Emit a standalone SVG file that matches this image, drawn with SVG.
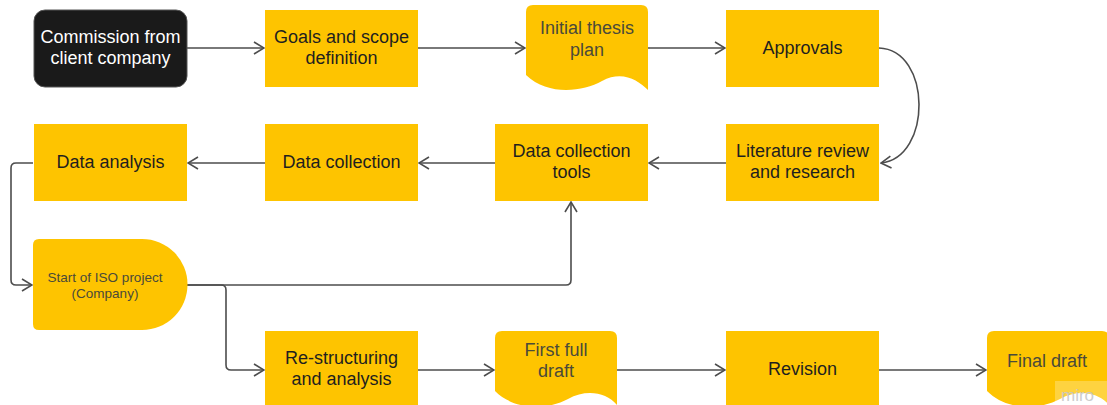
<svg xmlns="http://www.w3.org/2000/svg" width="1107" height="405" viewBox="0 0 1107 405">
<style>
.y{fill:#FEC400}
.t{font-family:"Liberation Sans",Arial,sans-serif;font-size:18px;fill:#1f1f1f;text-anchor:middle}
.g{fill:#4a4a3a}
.c{fill:none;stroke:#4d4d4d;stroke-width:1.6}
</style>
<defs>
<marker id="a" viewBox="0 0 12 14" refX="11" refY="7" markerWidth="12" markerHeight="14" markerUnits="userSpaceOnUse" orient="auto">
<path d="M1,1 L11,7 L1,13" fill="none" stroke="#4d4d4d" stroke-width="1.6"/>
</marker>
</defs>
<rect width="1107" height="405" fill="#fff"/>
<g id="connectors">
<path class="c" d="M187,48 H264" marker-end="url(#a)"/>
<path class="c" d="M418,48 H525" marker-end="url(#a)"/>
<path class="c" d="M648,48 H725" marker-end="url(#a)"/>
<path class="c" d="M879,48 C932,50 932,158 881,163" marker-end="url(#a)"/>
<path class="c" d="M726,163 H649" marker-end="url(#a)"/>
<path class="c" d="M495,163 H419" marker-end="url(#a)"/>
<path class="c" d="M265,163 H188" marker-end="url(#a)"/>
<path class="c" d="M33,163 H16 Q11,163 11,168 V280 Q11,285 16,285 H32" marker-end="url(#a)"/>
<path class="c" d="M187,285 H566 Q571,285 571,280 V202" marker-end="url(#a)"/>
<path class="c" d="M187,285 H221 Q226,285 226,290 V365 Q226,370 231,370 H264" marker-end="url(#a)"/>
<path class="c" d="M418,370 H494" marker-end="url(#a)"/>
<path class="c" d="M617,370 H725" marker-end="url(#a)"/>
<path class="c" d="M879,370 H986" marker-end="url(#a)"/>
</g>
<g id="commission">
<rect x="34" y="10" width="153" height="77" rx="11" fill="#1a1a1a" stroke="#555" stroke-width="1"/>
<text class="t" x="110.5" y="43" style="fill:#fff">Commission from</text>
<text class="t" x="110.5" y="64" style="fill:#fff">client company</text>
</g>
<g id="goals">
<rect class="y" x="265" y="10" width="153" height="77"/>
<text class="t" x="341.5" y="43">Goals and scope</text>
<text class="t" x="341.5" y="64">definition</text>
</g>
<g id="initial-plan">
<path class="y" d="M526,75 C548,96 582,92 602,81 C622,70 638,80 648,90 V12 Q648,5 641,5 H533 Q526,5 526,12 Z"/>
<text class="t g" x="587" y="34">Initial thesis</text>
<text class="t g" x="587" y="56">plan</text>
</g>
<g id="approvals">
<rect class="y" x="726" y="10" width="153" height="77"/>
<text class="t" x="802.5" y="54">Approvals</text>
</g>
<g id="literature">
<rect class="y" x="726" y="124" width="153" height="77"/>
<text class="t" x="802.5" y="157">Literature review</text>
<text class="t" x="802.5" y="178">and research</text>
</g>
<g id="tools">
<rect class="y" x="495" y="124" width="153" height="77"/>
<text class="t" x="571.5" y="157">Data collection</text>
<text class="t" x="571.5" y="178">tools</text>
</g>
<g id="collection">
<rect class="y" x="265" y="124" width="153" height="77"/>
<text class="t" x="341.5" y="168">Data collection</text>
</g>
<g id="analysis">
<rect class="y" x="34" y="124" width="153" height="77"/>
<text class="t" x="110.5" y="168">Data analysis</text>
</g>
<g id="iso-start">
<path class="y" d="M39,239 H142 A45.5,45.5 0 0 1 142,330 H39 Q33,330 33,324 V245 Q33,239 39,239 Z"/>
<text class="t g" x="105" y="282" style="font-size:13.5px">Start of ISO project</text>
<text class="t g" x="105" y="298" style="font-size:13.5px">(Company)</text>
</g>
<g id="restructuring">
<rect class="y" x="265" y="331" width="153" height="80"/>
<text class="t" x="341.5" y="364">Re-structuring</text>
<text class="t" x="341.5" y="385">and analysis</text>
</g>
<g id="first-draft">
<path class="y" d="M495,391 C515,411 548,410 568,399 C586,389 606,392 617,405 V338 Q617,331 610,331 H502 Q495,331 495,338 Z"/>
<text class="t g" x="556" y="356">First full</text>
<text class="t g" x="556" y="377">draft</text>
</g>
<g id="revision">
<rect class="y" x="726" y="331" width="153" height="80"/>
<text class="t" x="802.5" y="375">Revision</text>
</g>
<g id="final-draft">
<path class="y" d="M987,391 C1007,411 1040,410 1060,399 C1078,389 1098,392 1109,405 V338 Q1109,331 1102,331 H994 Q987,331 987,338 Z"/>
<text class="t g" x="1047" y="367">Final draft</text>
</g>
<g id="watermark">
<rect x="1055" y="381" width="52" height="24" fill="#fff" opacity="0.25"/>
<text x="1061" y="401" style="font-family:'Liberation Sans',Arial,sans-serif;font-size:17px;fill:#c8c8c8;opacity:0.9">miro</text>
</g>
</svg>
